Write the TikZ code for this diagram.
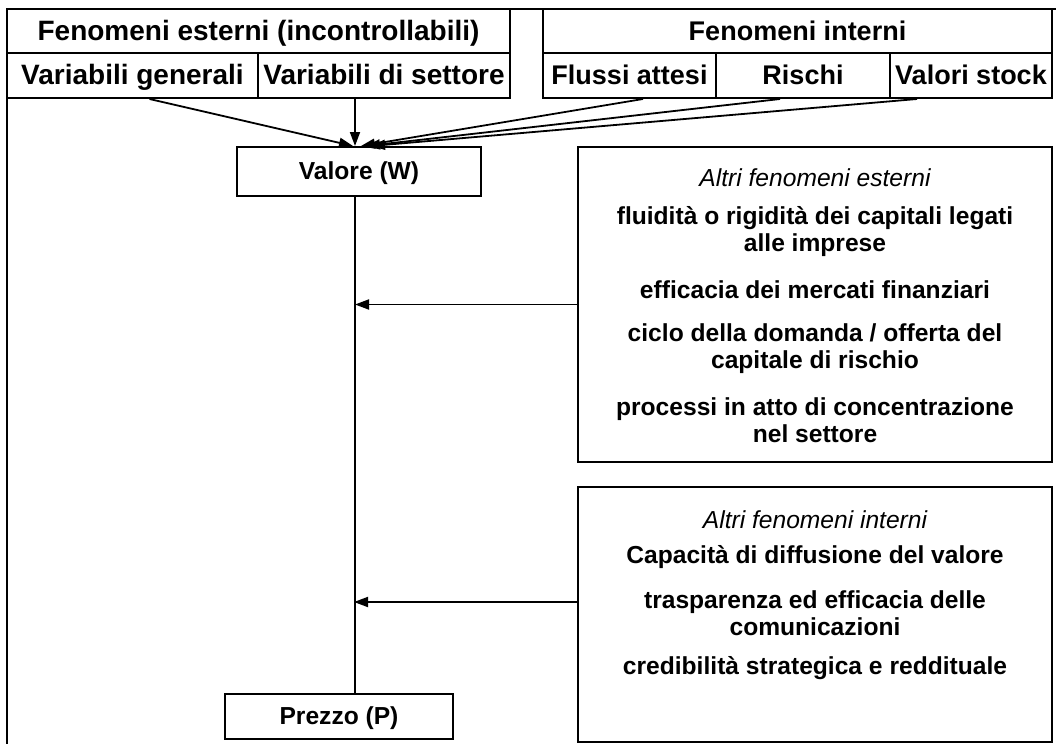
\documentclass[tikz,border=0pt]{standalone}
\usepackage{fontspec}
\setmainfont{Liberation Sans}
\usetikzlibrary{arrows.meta}
\begin{document}
\begin{tikzpicture}[x=0.5pt,y=-0.5pt,
  hdr/.style={draw,line width=1pt,inner sep=0pt,text height=9.8pt,text depth=0.5pt,font=\bfseries\fontsize{13.5}{16}\selectfont},
  hdrl/.style={hdr,font=\bfseries\fontsize{14}{16}\selectfont},
  keybox/.style={draw,line width=1pt,inner sep=0pt,text height=8.8pt,text depth=0.5pt,font=\bfseries\fontsize{12.3}{14}\selectfont},
  panel/.style={draw,line width=1pt,inner sep=0pt},
  item/.style={align=center,inner sep=0pt,font=\bfseries\fontsize{12.3}{13.5}\selectfont},
  itemhead/.style={inner sep=0pt,font=\itshape\fontsize{12.3}{13.5}\selectfont},
  conn/.style={line width=0.9pt,-{Triangle[length=7pt,width=5pt]}},
  spine/.style={line width=0.6pt},
  frame/.style={line width=1pt}]
\useasboundingbox (0,0) rectangle (1056,744);
\fill[white] (0,0) rectangle (1056,744);
\coordinate (axis) at (355,0);
% outer frame
\draw[frame] (7,744) -- (7,9) -- (1056,9);
% top left group
\node[hdrl,minimum width=251.5pt,minimum height=22pt] (ext0) at (258.5,31) {Fenomeni esterni (incontrollabili)};
\node[hdrl,minimum width=125.5pt,minimum height=22.5pt] (vg) at (132.5,75.5) {Variabili generali};
\node[hdrl,minimum width=126pt,minimum height=22.5pt] (vs) at (384,75.5) {Variabili di settore};
% top right group
\node[hdr,minimum width=254.5pt,minimum height=22pt] (int0) at (797.5,31) {Fenomeni interni};
\node[hdr,minimum width=86.5pt,minimum height=22.5pt] (fa) at (629.5,75.5) {Flussi attesi};
\node[hdr,minimum width=87pt,minimum height=22.5pt] (ri) at (803,75.5) {Rischi};
\node[hdr,minimum width=81pt,minimum height=22.5pt] (vst) at (971,75.5) {Valori stock};
% value and price
\node[keybox,minimum width=122pt,minimum height=24.5pt] (val) at (359,171.5) {Valore (W)};
\node[keybox,minimum width=114pt,minimum height=22.5pt] (pr) at (339,716.5) {Prezzo (P)};
% panels
\node[panel,minimum width=237pt,minimum height=157.5pt] (extp) at (815,304.5) {};
\node[panel,minimum width=237pt,minimum height=127.5pt] (intp) at (815,614.5) {};
% external panel texts
\node[itemhead] (eh) at (815,178) {Altri fenomeni esterni};
\node[item] (e1) at (815,231.5) {fluidità o rigidità dei capitali legati\\alle imprese};
\node[item] (e2) at (815,290) {efficacia dei mercati finanziari};
\node[item] (e3) at (815,348.5) {ciclo della domanda / offerta del\\capitale di rischio};
\node[item] (e4) at (815,420.5) {processi in atto di concentrazione\\nel settore};
% internal panel texts
\node[itemhead] (ih) at (815,520) {Altri fenomeni interni};
\node[item] (i1) at (815,557) {Capacità di diffusione del valore};
\node[item] (i2) at (815,613.5) {trasparenza ed efficacia delle\\comunicazioni};
\node[item] (i3) at (815,668) {credibilità strategica e reddituale};
% connectors
\draw[conn] ([xshift=8.5pt]vg.south) -- ([xshift=-3pt]val.north);
\draw[conn] (vs.south -| axis) -- (val.north -| axis);
\draw[conn] ([xshift=6.75pt]fa.south) -- ([xshift=1pt]val.north);
\draw[conn] ([xshift=-11.5pt]ri.south) -- ([xshift=3.5pt]val.north);
\draw[conn] ([xshift=-27pt]vst.south) -- ([xshift=6pt]val.north);
\draw[spine] (val.south -| axis) -- (pr.north -| axis);
\draw[conn] (extp.west) -- (extp.west -| axis);
\draw[conn] ([yshift=6.25pt]intp.west) -- +(-111.5pt,0);
\end{tikzpicture}
\end{document}
